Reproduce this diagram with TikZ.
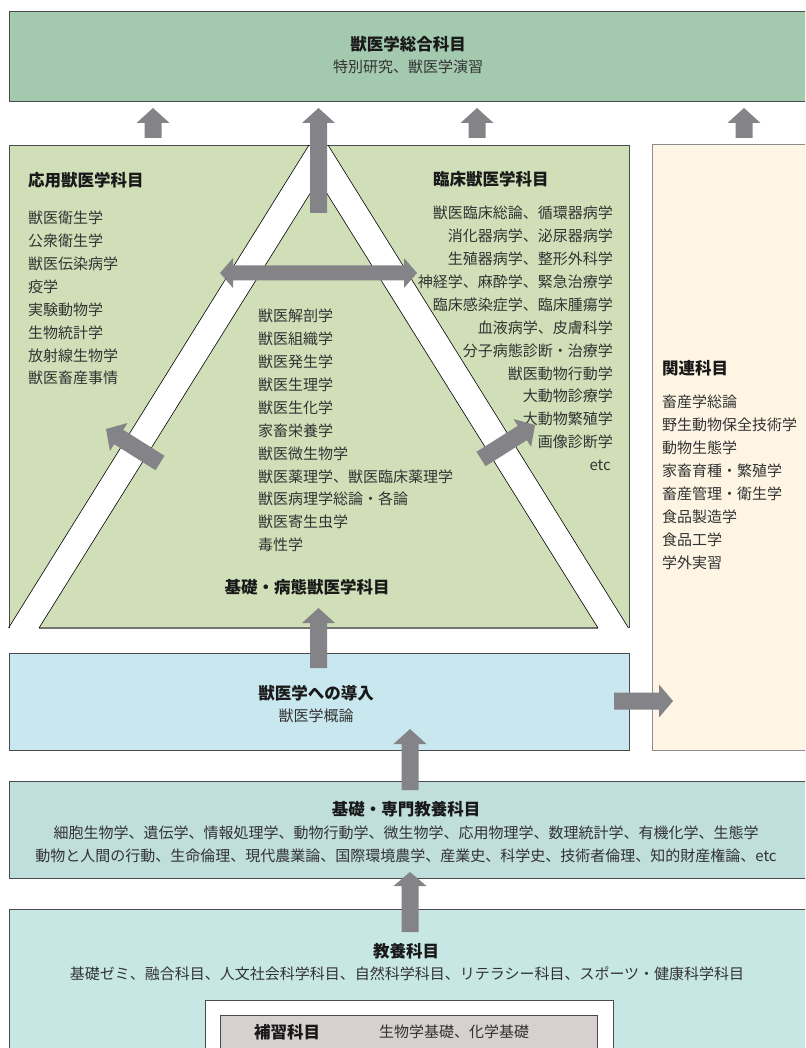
\documentclass[tikz,border=0pt]{standalone}
\usepackage{fontspec}
\setmainfont{Noto Sans CJK JP}
\usetikzlibrary{calc}
\definecolor{topgreen}{HTML}{A3C9AE}
\definecolor{midgreen}{HTML}{D0DFB8}
\definecolor{beigebg}{HTML}{FEF5E4}
\definecolor{introblue}{HTML}{C8E7EF}
\definecolor{basicteal}{HTML}{BFDEDC}
\definecolor{libteal}{HTML}{C7E7E5}
\definecolor{remgray}{HTML}{D6D0CF}
\definecolor{arrowgray}{HTML}{838388}
\definecolor{edgecol}{HTML}{4A4A4A}
\definecolor{txtcol}{HTML}{333333}
% block arrow: #1 tail, #2 tip, #3 half shaft, #4 half head, #5 head length
\newcommand\blockarrow[5]{%
  \coordinate (bah) at ($(#2)!#5!(#1)$);
  \fill[arrowgray] ($(#1)!#3!90:(#2)$) -- ($(bah)!#3!90:(#2)$) -- ($(bah)!#4!90:(#2)$) -- (#2)
     -- ($(bah)!#4!-90:(#2)$) -- ($(bah)!#3!-90:(#2)$) -- ($(#1)!#3!-90:(#2)$) -- cycle;}
% double block arrow: #1 one tip, #2 other tip, #3 half shaft, #4 half head, #5 head length
\newcommand\dblarrow[5]{%
  \coordinate (dah) at ($(#1)!#5!(#2)$);
  \coordinate (dak) at ($(#2)!#5!(#1)$);
  \fill[arrowgray] (#1) -- ($(dah)!#4!90:(#2)$) -- ($(dah)!#3!90:(#2)$) -- ($(dak)!#3!90:(#2)$)
     -- ($(dak)!#4!90:(#2)$) -- (#2) -- ($(dak)!#4!-90:(#2)$) -- ($(dak)!#3!-90:(#2)$)
     -- ($(dah)!#3!-90:(#2)$) -- ($(dah)!#4!-90:(#2)$) -- cycle;}
\tikzset{
  box/.style={draw=edgecol, line width=1pt},
  headtxt/.style={font=\fontsize{16.5}{20}\selectfont\bfseries, text=black!90, inner sep=0pt},
  bodytxt/.style={font=\fontsize{15}{18}\selectfont, text=txtcol, inner sep=0pt},
}
\begin{document}
\begin{tikzpicture}[x=1pt,y=-1pt]
\useasboundingbox (0,0) rectangle (805,1048);
\clip (0,0) rectangle (805,1048);

% ---- top box
\draw[box, fill=topgreen] (9,12) rectangle (830,102);
\node[headtxt] (sogo) at (408,44) {獣医学総合科目};
\node[bodytxt] (sogo2) at (408,67) {特別研究、獣医学演習};

% ---- related subjects (beige)
\draw[box, draw=black!45, fill=beigebg] (652,145) rectangle (830,750);
\node[headtxt, anchor=west] (kanren) at (662,368) {関連科目};
\foreach \t [count=\i from 0] in {畜産学総論,野生動物保全技術学,動物生態学,家畜育種・繁殖学,畜産管理・衛生学,食品製造学,食品工学,学外実習}
  \node[bodytxt, anchor=west] (K\i) at (662,{402+23*\i}) {\t};

% ---- green region with triangle band
\fill[midgreen] (9,145) rectangle (629,628);
\fill[white] (309,145) -- (328,145) -- (628.5,628) -- (598,628) -- (318.5,180) -- (39,628) -- (8.5,628) -- cycle;
\draw[edgecol, line width=0.9pt] (9,628) -- (9,145) -- (629,145) -- (629,628);
\draw[black!55, line width=1.2pt] (39,628) -- (598,628);
\draw[black, line width=0.6pt] (309,145) -- (8.5,628);
\draw[black, line width=0.6pt] (328,145) -- (628.5,628);
\draw[black, line width=0.6pt] (39,628) -- (318.5,180) -- (598,628);

\node[headtxt, anchor=west] (oyo) at (28,180) {応用獣医学科目};
\foreach \t [count=\i from 0] in {獣医衛生学,公衆衛生学,獣医伝染病学,疫学,実験動物学,生物統計学,放射線生物学,獣医畜産事情}
  \node[bodytxt, anchor=west] (L\i) at (28,{218+22.9*\i}) {\t};

\node[headtxt, anchor=west] (rinsho) at (433,179) {臨床獣医学科目};
\foreach \t [count=\i from 0] in {獣医臨床総論、循環器病学,消化器病学、泌尿器病学,生殖器病学、整形外科学,神経学、麻酔学、緊急治療学,臨床感染症学、臨床腫瘍学,血液病学、皮膚科学,分子病態診断・治療学,獣医動物行動学,大動物診療学,大動物繁殖学,画像診断学}
  \node[bodytxt, anchor=east] (R\i) at (613,{213+22.9*\i}) {\t};
\node[bodytxt, anchor=east] (Retc) at (611,465) {etc};

\foreach \t [count=\i from 0] in {獣医解剖学,獣医組織学,獣医発生学,獣医生理学,獣医生化学,家畜栄養学,獣医微生物学,獣医薬理学、獣医臨床薬理学,獣医病理学総論・各論,獣医寄生虫学,毒性学}
  \node[bodytxt, anchor=west] (C\i) at (258,{316+22.9*\i}) {\t};
\node[headtxt] (kiso) at (307,587) {基礎・病態獣医学科目};

% ---- intro box
\draw[box, fill=introblue] (9,653) rectangle (629,750);
\node[headtxt] (donyu) at (316,693) {獣医学への導入};
\node[bodytxt] (donyu2) at (316,716) {獣医学概論};

% ---- basic / specialised liberal arts
\draw[box, fill=basicteal] (9,781) rectangle (830,878);
\node[headtxt] (senmon) at (406,809) {基礎・専門教養科目};
\node[bodytxt] (senmon1) at (406,833) {細胞生物学、遺伝学、情報処理学、動物行動学、微生物学、応用物理学、数理統計学、有機化学、生態学};
\node[bodytxt] (senmon2) at (406,856) {動物と人間の行動、生命倫理、現代農業論、国際環境農学、産業史、科学史、技術者倫理、知的財産権論、etc};

% ---- liberal arts
\draw[box, fill=libteal] (9,909) rectangle (830,1070);
\node[headtxt] (kyoyo) at (406,951) {教養科目};
\node[bodytxt] (kyoyo1) at (407,974) {基礎ゼミ、融合科目、人文社会科学科目、自然科学科目、リテラシー科目、スポーツ・健康科学科目};
\draw[box, fill=white] (205,1000) rectangle (613,1070);
\draw[box, fill=remgray] (220,1015) rectangle (597,1070);
\node[headtxt, anchor=west] (hoshu) at (254,1032) {補習科目};
\node[bodytxt, anchor=west] (hoshu2) at (379,1032) {生物学基礎、化学基礎};

% ---- arrows
\coordinate (a1s) at (153,138); \coordinate (a1e) at (153,108);
\coordinate (a2s) at (318.5,213); \coordinate (a2e) at (318.5,108);
\coordinate (a3s) at (477,138); \coordinate (a3e) at (477,108);
\coordinate (a4s) at (744,138); \coordinate (a4e) at (744,108);
\blockarrow{a1s}{a1e}{8.5pt}{16.5pt}{15pt}
\blockarrow{a2s}{a2e}{8.5pt}{16.5pt}{15pt}
\blockarrow{a3s}{a3e}{8.5pt}{16.5pt}{15pt}
\blockarrow{a4s}{a4e}{8.5pt}{16.5pt}{15pt}

\coordinate (dl) at (220,273); \coordinate (dr) at (417,273);
\dblarrow{dl}{dr}{7.5pt}{15pt}{13pt}

\coordinate (lds) at (160,463); \coordinate (lde) at (106,429);
\blockarrow{lds}{lde}{8.5pt}{16.5pt}{15pt}
\coordinate (rds) at (481,459); \coordinate (rde) at (535,425);
\blockarrow{rds}{rde}{8.5pt}{16.5pt}{15pt}

\coordinate (bts) at (318.5,668); \coordinate (bte) at (318.5,608);
\blockarrow{bts}{bte}{8.5pt}{16.5pt}{15pt}
\coordinate (brs) at (614,701); \coordinate (bre) at (673,701);
\blockarrow{brs}{bre}{8.5pt}{16.5pt}{14pt}
\coordinate (ms) at (410,790); \coordinate (me) at (410,729);
\blockarrow{ms}{me}{8.5pt}{16.5pt}{15pt}
\coordinate (ls) at (410,932); \coordinate (le) at (410,872);
\blockarrow{ls}{le}{8.5pt}{16.5pt}{14pt}
\end{tikzpicture}
\end{document}
